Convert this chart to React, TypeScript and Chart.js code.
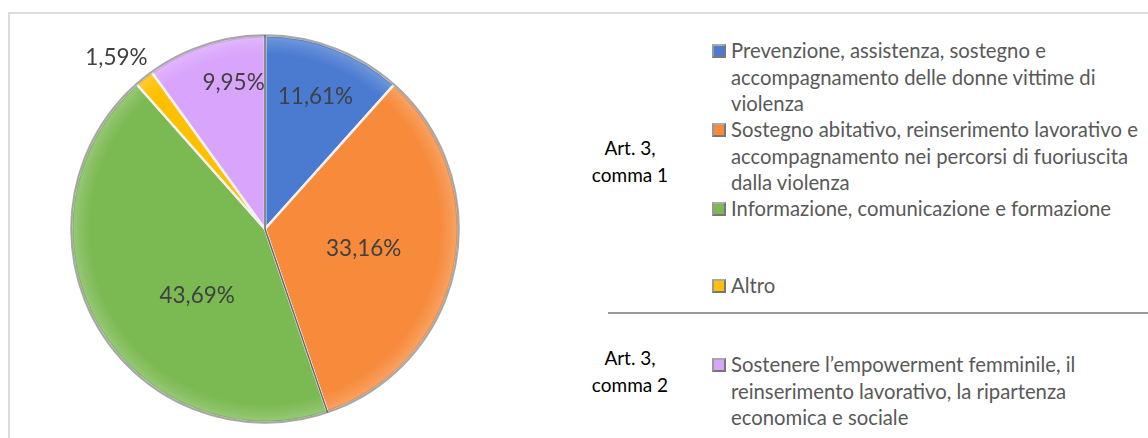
import React, { useEffect, useRef } from "react";
import { Chart, registerables } from "chart.js";

Chart.register(...registerables);

const categories: string[][] = [
  ["Prevenzione, assistenza, sostegno e", "accompagnamento delle donne vittime di", "violenza"],
  ["Sostegno abitativo, reinserimento lavorativo e", "accompagnamento nei percorsi di fuoriuscita", "dalla violenza"],
  ["Informazione, comunicazione e formazione"],
  ["Altro"],
  ["Sostenere l\u2019empowerment femminile, il", "reinserimento lavorativo, la ripartenza", "economica e sociale"],
];
const values: number[] = [11.61, 33.16, 43.69, 1.59, 9.95];
const valueLabels: string[] = ["11,61%", "33,16%", "43,69%", "1,59%", "9,95%"];
const groupLabels: string[][] = [["Art. 3,", "comma 1"], ["Art. 3,", "comma 2"]];

const colors = ["#4a7bd1", "#f78a3b", "#7bb952", "#ffc000", "#d9a4fb"];
// label placement: fraction of radius, fraction along slice angle
const labelRadius = [0.73, 0.52, 0.49, 1.17, 0.77];
const labelAlong = [0.5, 0.5, 0.41, 0.1, 0.66];
const legendTops = [37, 116, 195, 272, 351];
const FONT = "Lato, 'Open Sans', sans-serif";

const labelPlugin = {
  id: "sliceLabels",
  afterDatasetsDraw(chart: any) {
    const meta = chart.getDatasetMeta(0);
    const ctx = chart.ctx;
    ctx.save();
    const a0 = meta.data[0];
    // soft bevel near rim
    const g = ctx.createRadialGradient(a0.x, a0.y, a0.outerRadius * 0.9, a0.x, a0.y, a0.outerRadius);
    g.addColorStop(0, "rgba(255,255,255,0)");
    g.addColorStop(0.6, "rgba(255,255,255,0.12)");
    g.addColorStop(0.85, "rgba(255,255,255,0.2)");
    g.addColorStop(1, "rgba(0,0,0,0.12)");
    ctx.beginPath();
    ctx.arc(a0.x, a0.y, a0.outerRadius, 0, Math.PI * 2);
    ctx.fillStyle = g;
    ctx.fill();
    // outer rim
    ctx.beginPath();
    ctx.arc(a0.x, a0.y, a0.outerRadius, 0, Math.PI * 2);
    ctx.strokeStyle = "rgba(150,150,150,0.8)";
    ctx.lineWidth = 2;
    ctx.stroke();
    // dark seam lines
    ctx.strokeStyle = "rgba(70,70,70,0.8)";
    ctx.lineWidth = 1.5;
    [0, 2].forEach((i) => {
      const arc = meta.data[i];
      const ang = arc.startAngle;
      ctx.beginPath();
      ctx.moveTo(arc.x, arc.y);
      ctx.lineTo(arc.x + Math.cos(ang) * arc.outerRadius, arc.y + Math.sin(ang) * arc.outerRadius);
      ctx.stroke();
    });
    ctx.font = `22.5px ${FONT}`;
    ctx.fillStyle = "#404040";
    ctx.textAlign = "center";
    ctx.textBaseline = "middle";
    meta.data.forEach((arc: any, i: number) => {
      const ang = arc.startAngle + (arc.endAngle - arc.startAngle) * labelAlong[i];
      const r = arc.outerRadius * labelRadius[i];
      ctx.fillText(valueLabels[i], arc.x + Math.cos(ang) * r, arc.y + Math.sin(ang) * r);
    });
    ctx.restore();
  },
};

export default function App() {
  const ref = useRef<HTMLCanvasElement>(null);
  useEffect(() => {
    document.body.style.margin = "0";
    const chart = new Chart(ref.current!, {
      type: "pie",
      data: {
        labels: categories,
        datasets: [
          {
            data: values,
            backgroundColor: colors,
            borderColor: "#f2f2f2",
            borderWidth: 2.5,
          },
        ],
      },
      options: {
        responsive: false,
        animation: false,
        layout: { padding: { top: 34, bottom: 14, left: 0, right: 0 } },
        plugins: { legend: { display: false }, tooltip: { enabled: false }, title: { display: false } },
      },
      plugins: [labelPlugin],
    });
    return () => chart.destroy();
  }, []);

  return (
    <div style={{ position: "relative", width: 1148, height: 438, background: "#fff", overflow: "hidden", fontFamily: FONT }}>
      <div style={{ position: "absolute", left: 8, top: 12, right: 0, height: 2, background: "#dcdcdc" }} />
      <div style={{ position: "absolute", left: 8, top: 12, width: 2, bottom: 0, background: "#dcdcdc" }} />
      <canvas ref={ref} width={530} height={438} style={{ position: "absolute", left: 0, top: 0 }} />
      {groupLabels.map((g, gi) => (
        <div
          key={gi}
          style={{
            position: "absolute",
            left: 570,
            width: 120,
            top: gi === 0 ? 134 : 344,
            textAlign: "center",
            fontSize: 19,
            lineHeight: "27px",
            color: "#000",
          }}
        >
          {g.map((l, i) => (
            <div key={i}>{l}</div>
          ))}
        </div>
      ))}
      <div style={{ position: "absolute", left: 608, right: 0, top: 312, height: 1.5, background: "#999" }} />
      {categories.map((lines, i) => (
        <div key={i} style={{ position: "absolute", left: 712, top: legendTops[i], whiteSpace: "nowrap" }}>
          <div
            style={{
              position: "absolute",
              left: 0,
              top: 7,
              width: 10,
              height: 10,
              background: colors[i],
              border: "2px solid #777",
              borderTopColor: "#aaa",
              borderLeftColor: "#999",
            }}
          />
          <div style={{ marginLeft: 19, fontSize: 20.3, lineHeight: "26.5px", color: "#595959" }}>
            {lines.map((l, j) => (
              <div key={j}>{l}</div>
            ))}
          </div>
        </div>
      ))}
    </div>
  );
}
